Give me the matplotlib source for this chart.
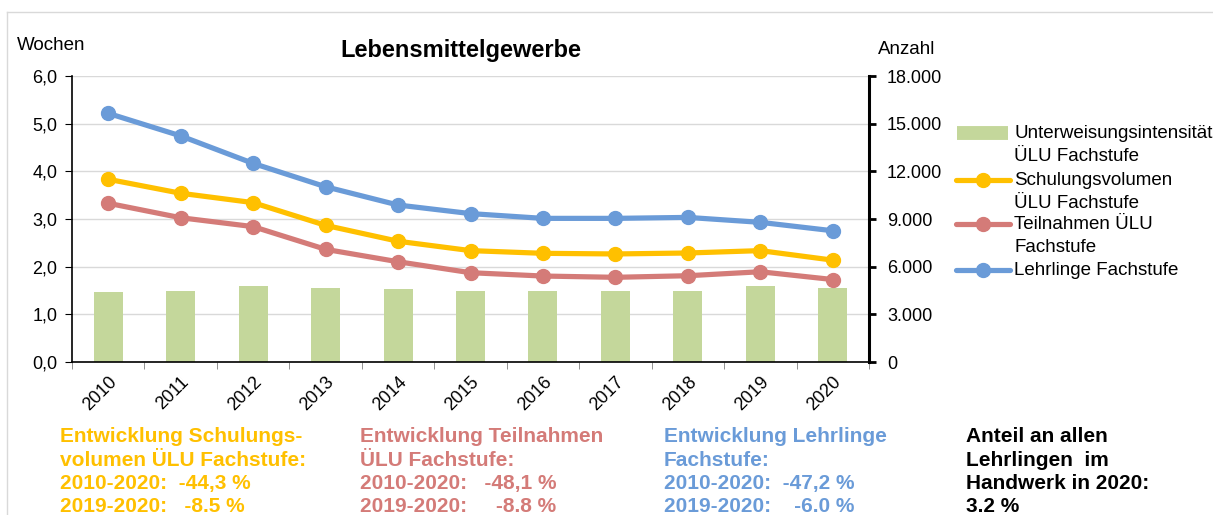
import matplotlib
matplotlib.use('Agg')
import matplotlib.pyplot as plt
from matplotlib.lines import Line2D
from matplotlib.ticker import FuncFormatter, FixedLocator

plt.rcParams['font.family'] = ['Liberation Sans', 'DejaVu Sans']

years = ['2010', '2011', '2012', '2013', '2014', '2015', '2016', '2017', '2018', '2019', '2020']
intensitaet = [1.47, 1.50, 1.60, 1.55, 1.53, 1.50, 1.50, 1.48, 1.49, 1.59, 1.55]
schulungsvolumen = [11500, 10620, 10030, 8600, 7600, 7010, 6840, 6800, 6860, 7010, 6410]
teilnahmen = [9990, 9080, 8520, 7090, 6310, 5620, 5410, 5330, 5430, 5680, 5190]
lehrlinge = [15650, 14230, 12500, 11030, 9880, 9340, 9040, 9040, 9100, 8790, 8260]

c_bar = '#C4D79B'
c_yellow = '#FFC000'
c_red = '#D47B78'
c_blue = '#6A9BD8'

W, H = 1213, 515
fig = plt.figure(figsize=(W / 100, H / 100), dpi=100)
ax = fig.add_axes([72 / W, 1 - 362 / H, (869 - 72) / W, (362 - 76) / H])
ax2 = ax.twinx()

x = list(range(len(years)))
ax.bar(x, intensitaet, width=0.4, color=c_bar, zorder=2)
ax.set_ylim(0, 6)
ax.set_xlim(-0.5, len(years) - 0.5)
ax.yaxis.set_major_locator(FixedLocator([0, 1, 2, 3, 4, 5, 6]))
ax.yaxis.set_major_formatter(FuncFormatter(lambda v, p: f'{v:.1f}'.replace('.', ',')))
ax.grid(axis='y', color='#D9D9D9', lw=1, zorder=0)
ax.set_axisbelow(True)

ax.set_xticks(x)
ax.set_xticklabels(years, rotation=45, ha='right', va='top', rotation_mode='anchor', fontsize=13)
ax.tick_params(axis='x', which='major', length=0, pad=8)
ax.set_xticks([i - 0.5 for i in range(len(years) + 1)], minor=True)
ax.tick_params(axis='x', which='minor', length=5, color='#808080', direction='out')
ax.tick_params(axis='y', labelsize=13, length=5, direction='out', color='black', pad=5.5)

ax.spines['top'].set_visible(False)
ax2.spines['top'].set_visible(False)
ax.spines['left'].set_linewidth(1.2)
ax.spines['bottom'].set_linewidth(1.2)
ax2.spines['right'].set_linewidth(2.2)
ax2.spines['left'].set_visible(False)
ax2.spines['bottom'].set_visible(False)
ax.spines['right'].set_visible(False)

line_kw = dict(lw=3.75, marker='o', ms=10, zorder=3)
ax2.plot(x, schulungsvolumen, color=c_yellow, **line_kw)
ax2.plot(x, teilnahmen, color=c_red, **line_kw)
ax2.plot(x, lehrlinge, color=c_blue, **line_kw)
ax2.set_ylim(0, 18000)
ax2.yaxis.set_major_locator(FixedLocator([0, 3000, 6000, 9000, 12000, 15000, 18000]))
ax2.yaxis.set_major_formatter(FuncFormatter(lambda v, p: f'{int(v):,}'.replace(',', '.')))
ax2.tick_params(axis='y', labelsize=13, length=5, width=2, direction='out', color='black', pad=8)

# legend drawn by hand: handle sits on the first text line, like in Excel
legend_items = [
    ('Unterweisungsintensität\nÜLU Fachstufe', c_bar, None, 133),
    ('Schulungsvolumen\nÜLU Fachstufe', c_yellow, 'o', 180),
    ('Teilnahmen ÜLU\nFachstufe', c_red, 'o', 224),
    ('Lehrlinge Fachstufe', c_blue, 'o', 270),
]
for label, col, mk, yp in legend_items:
    yf = 1 - yp / H
    if mk is None:
        fig.add_artist(Line2D([957 / W, 1008 / W], [yf, yf], color=c_bar, lw=10,
                              solid_capstyle='butt'))
    else:
        fig.add_artist(Line2D([956 / W, 1010 / W], [yf, yf], color=col, lw=3.75,
                              solid_capstyle='round'))
        fig.add_artist(Line2D([983 / W], [yf], color=col, marker='o', ms=10))
    fig.text(1014 / W, yf + 8 / H, label, fontsize=13.5, ha='left', va='top',
             linespacing=1.45)

fig.text(461 / W, 1 - 50 / H, 'Lebensmittelgewerbe', fontsize=17, fontweight='bold',
         ha='center', va='center')
fig.text(17 / W, 1 - 46 / H, 'Wochen', fontsize=13.5, ha='left', va='center')
fig.text(878 / W, 1 - 50 / H, 'Anzahl', fontsize=13.5, ha='left', va='center')

notes = [
    (60, c_yellow, 'Entwicklung Schulungs-\nvolumen ÜLU Fachstufe:\n2010-2020:  -44,3 %\n2019-2020:   -8.5 %'),
    (360, c_red, 'Entwicklung Teilnahmen\nÜLU Fachstufe:\n2010-2020:   -48,1 %\n2019-2020:     -8.8 %'),
    (664, c_blue, 'Entwicklung Lehrlinge\nFachstufe:\n2010-2020:  -47,2 %\n2019-2020:    -6.0 %'),
    (966, 'black', 'Anteil an allen\nLehrlingen  im\nHandwerk in 2020:\n3.2 %'),
]
for xp, col, txt in notes:
    fig.text(xp / W, 1 - 427 / H, txt, fontsize=15, fontweight='bold', color=col,
             ha='left', va='top', linespacing=1.3)

fig.add_artist(Line2D([7 / W, 1], [1 - 12 / H, 1 - 12 / H], color='#D9D9D9', lw=1))
fig.add_artist(Line2D([7 / W, 7 / W], [0, 1 - 12 / H], color='#D9D9D9', lw=1))

fig.savefig('out.png', dpi=100)
